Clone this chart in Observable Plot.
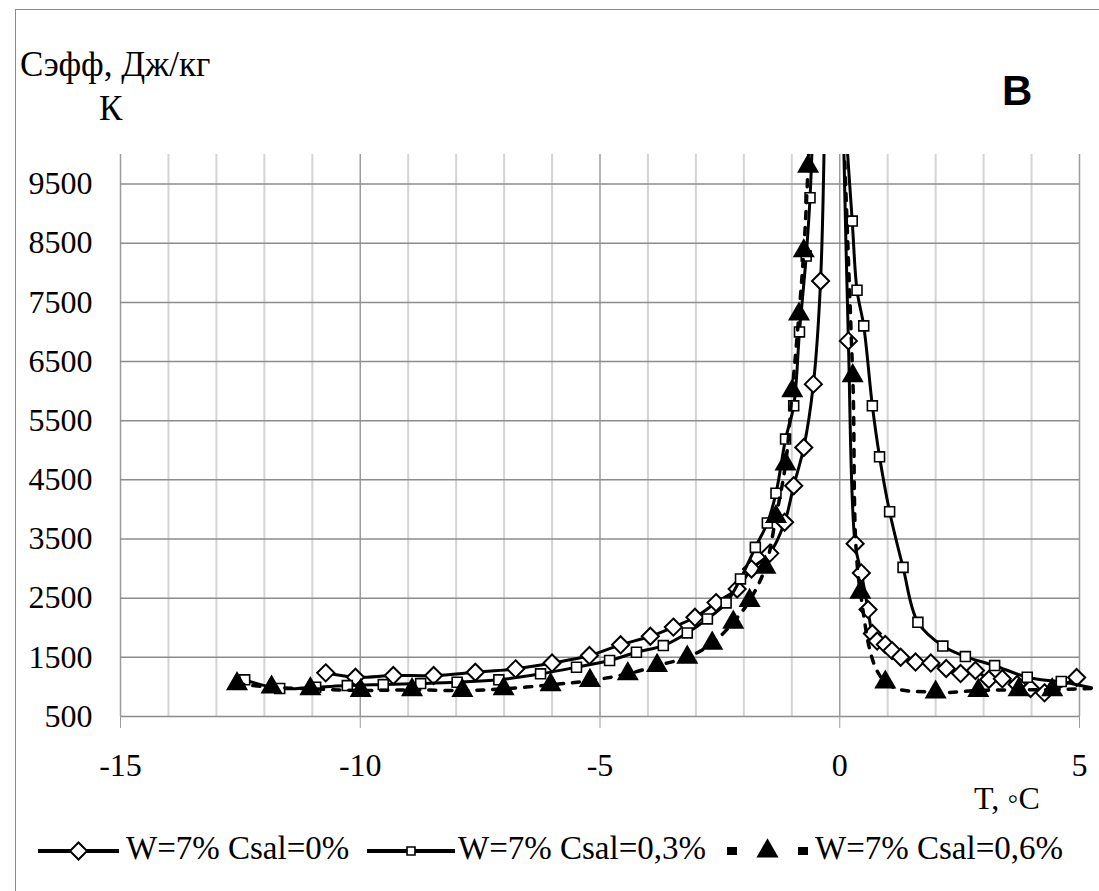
<!DOCTYPE html>
<html>
<head>
<meta charset="utf-8">
<script src="https://cdn.jsdelivr.net/npm/d3@7"></script>
<script src="https://cdn.jsdelivr.net/npm/@observablehq/plot@0.6"></script>
<style>
  body { margin: 0; background: #fff; }
  #fig { position: relative; width: 1099px; height: 891px; overflow: hidden; background: #fff;
         font-family: "Liberation Serif"; color: #000; }
  #frame { position: absolute; left: 15px; top: 9px; right: -4px; bottom: -4px;
           border-left: 1px solid #8c8c8c; border-top: 1px solid #8c8c8c; }
  #chart, #overlay { position: absolute; left: 0; top: 0; }
  .lbl { position: absolute; white-space: nowrap; line-height: 1; font-family: "Liberation Serif"; }
  .lbl.sans { font-family: "Liberation Sans"; font-weight: bold; }
</style>
</head>
<body>
<div id="fig">
  <div id="frame"></div>
  <div id="chart"></div>
</div>
<script>
// Axis ticks
const yTicks = [500, 1500, 2500, 3500, 4500, 5500, 6500, 7500, 8500, 9500];
const xTicks = [-15, -10, -5, 0, 5];

// W=7% Csal=0%  (diamonds)
const s0LeftT  = [-10.72, -10.10, -9.31, -8.47, -7.60, -6.76, -6.00, -5.22, -4.57, -3.95, -3.47, -3.02, -2.58, -2.14, -1.84, -1.46, -1.15, -0.96, -0.75, -0.55, -0.40];
const s0LeftC  = [1238, 1164, 1192, 1192, 1248, 1305, 1403, 1530, 1712, 1856, 2011, 2177, 2425, 2656, 2994, 3258, 3784, 4401, 5047, 6118, 7862];
const s0RightT = [0.18, 0.32, 0.45, 0.59, 0.68, 0.78, 0.95, 1.09, 1.27, 1.58, 1.90, 2.22, 2.52, 2.83, 3.11, 3.39, 3.70, 3.98, 4.27, 4.94];
const s0RightC = [6849, 3421, 2927, 2307, 1902, 1775, 1716, 1614, 1501, 1420, 1403, 1311, 1226, 1277, 1125, 1137, 1040, 973, 900, 1159];
const s0PeakT  = [-0.30, 0.06];      // off-scale values next to the phase-change peak
const s0PeakC  = [11500, 11000];

// W=7% Csal=0,3%  (squares)
const s1LeftT  = [-12.41, -11.68, -10.93, -10.27, -9.52, -8.74, -7.98, -7.11, -6.24, -5.49, -4.80, -4.24, -3.68, -3.18, -2.76, -2.37, -2.07, -1.76, -1.51, -1.33, -1.13, -0.96, -0.84, -0.70, -0.62];
const s1LeftC  = [1120, 973, 995, 1023, 1040, 1057, 1079, 1120, 1221, 1333, 1446, 1586, 1699, 1913, 2150, 2420, 2825, 3359, 3771, 4274, 5189, 5752, 7001, 8284, 9269];
const s1RightT = [0.26, 0.36, 0.50, 0.68, 0.83, 1.04, 1.32, 1.63, 2.15, 2.62, 3.23, 3.91, 4.62];
const s1RightC = [8875, 7705, 7103, 5752, 4890, 3962, 3021, 2092, 1690, 1513, 1361, 1164, 1091];
const s1PeakT  = [-0.52, 0.08];
const s1PeakC  = [11500, 11000];
const s1TailT  = [5.25];
const s1TailC  = [985];

// W=7% Csal=0,6%  (triangles)
const s2LeftT  = [-12.57, -11.85, -11.04, -9.99, -8.92, -7.87, -7.01, -6.03, -5.21, -4.42, -3.81, -3.18, -2.66, -2.22, -1.88, -1.55, -1.33, -1.13, -0.99, -0.85, -0.75, -0.66];
const s2LeftC  = [1052, 995, 968, 939, 951, 939, 968, 1035, 1108, 1221, 1361, 1501, 1738, 2092, 2459, 3021, 3877, 4767, 6005, 7300, 8369, 9800];
const s2RightT = [0.27, 0.43, 0.95, 2.00, 2.89, 3.73, 4.43];
const s2RightC = [6258, 2599, 1079, 910, 939, 951, 951];
const s2PeakT  = [-0.58, 0.03];
const s2PeakC  = [11500, 11500];
const s2TailT  = [5.25];
const s2TailC  = [975];

const seriesNames = ["W=7% Csal=0%", "W=7% Csal=0,3%", "W=7% Csal=0,6%"];

const rows = (ts, cs, branch) => ts.map((t, i) => ({T: t, C: cs[i], branch}));

function build(leftT, leftC, rightT, rightC, peakT, peakC, tailT = [], tailC = []) {
  const left = rows(leftT, leftC, "L");
  const right = rows(rightT, rightC, "R");
  const line = [...left, {T: peakT[0], C: peakC[0], branch: "L"},
                {T: peakT[1], C: peakC[1], branch: "R"}, ...right];
  const tail = tailT.length ? [right[right.length - 1], ...rows(tailT, tailC, "R")] : [];
  return {points: [...left, ...right], line, tail};
}

const s0 = build(s0LeftT, s0LeftC, s0RightT, s0RightC, s0PeakT, s0PeakC);
const s1 = build(s1LeftT, s1LeftC, s1RightT, s1RightC, s1PeakT, s1PeakC, s1TailT, s1TailC);
const s2 = build(s2LeftT, s2LeftC, s2RightT, s2RightC, s2PeakT, s2PeakC, s2TailT, s2TailC);

// marker styles (shared by the chart and the legend)
const diamondR = 7.7, squareR = 5.6, triangleR = 8.2;
const dash = "7,9";
const FONT = "Liberation Serif";

const xMinor = d3.range(-14, 5).filter(v => v % 5 !== 0);
const yGrid = yTicks.slice(1);

const chart = Plot.plot({
  width: 1099,
  height: 891,
  marginLeft: 120,
  marginRight: 20,
  marginTop: 154,
  marginBottom: 175,
  x: {domain: [-15, 5]},
  y: {domain: [500, 10000]},
  style: {fontFamily: FONT, fontSize: "32px", color: "#000", background: "transparent"},
  marks: [
    Plot.gridX(xMinor, {stroke: "#d4d4d4", strokeOpacity: 1, strokeWidth: 2}),
    Plot.gridX(xTicks, {stroke: "#9c9c9c", strokeOpacity: 1, strokeWidth: 1.5}),
    Plot.gridY(yGrid, {stroke: "#8c8c8c", strokeOpacity: 1, strokeWidth: 1.5}),
    Plot.ruleY([500], {stroke: "#8c8c8c", strokeWidth: 1.5}),
    Plot.axisY(yTicks, {tickSize: 0, tickPadding: 28, fontSize: 32, fontFamily: FONT, label: null, tickFormat: d => String(d)}),
    Plot.axisX(xTicks, {tickSize: 12, tickPadding: 25, stroke: "#9c9c9c", fontSize: 32, fontFamily: FONT, label: null, tickFormat: d => String(d)}),

    // Csal = 0%
    Plot.line(s0.line, {x: "T", y: "C", z: "branch", curve: "catmull-rom", stroke: "#000", strokeWidth: 3, clip: true}),
    Plot.dot(s0.points, {x: "T", y: "C", symbol: "diamond2", r: diamondR, fill: "#fff", stroke: "#000", strokeWidth: 2}),

    // Csal = 0,3%
    Plot.line(s1.line, {x: "T", y: "C", z: "branch", curve: "catmull-rom", stroke: "#000", strokeWidth: 3, clip: true}),
    Plot.line(s1.tail, {x: "T", y: "C", stroke: "#000", strokeWidth: 3}),
    Plot.dot(s1.points, {x: "T", y: "C", symbol: "square", r: squareR, fill: "#fff", stroke: "#000", strokeWidth: 1.6}),

    // Csal = 0,6%
    Plot.line(s2.line, {x: "T", y: "C", z: "branch", curve: "catmull-rom", stroke: "#000", strokeWidth: 3.5, strokeDasharray: dash, clip: true}),
    Plot.line(s2.tail, {x: "T", y: "C", stroke: "#000", strokeWidth: 3.5, strokeDasharray: dash}),
    Plot.dot(s2.points, {x: "T", y: "C", symbol: "triangle", r: triangleR, fill: "#000", stroke: "none"})
  ]
});
document.getElementById("chart").appendChild(chart);

// Legend symbols
const fig = d3.select("#fig");
const ov = fig.append("svg").attr("id", "overlay").attr("width", 1099).attr("height", 891);

const legendY = 851;
const sym = (type, r) => d3.symbol(type, r * r * Math.PI)();
const items = [
  {x0: 38, x1: 119, tx: 126},
  {x0: 367, x1: 455, tx: 458},
  {x0: 727, x1: 808, tx: 815}
];
items.forEach((it, i) => {
  const g = ov.append("g");
  const cx = (it.x0 + it.x1) / 2;
  if (i < 2) {
    g.append("line").attr("x1", it.x0).attr("x2", it.x1).attr("y1", legendY).attr("y2", legendY)
      .attr("stroke", "#000").attr("stroke-width", 4);
  } else {
    [it.x0, it.x1 - 10].forEach(x => g.append("rect").attr("x", x).attr("y", legendY - 4)
      .attr("width", 10).attr("height", 8).attr("fill", "#000"));
  }
  const p = g.append("path").attr("transform", `translate(${cx},${legendY})`);
  if (i === 0) p.attr("d", sym(d3.symbolDiamond2, diamondR)).attr("fill", "#fff").attr("stroke", "#000").attr("stroke-width", 2);
  if (i === 1) p.attr("d", sym(d3.symbolSquare, squareR * 0.8)).attr("fill", "#fff").attr("stroke", "#000").attr("stroke-width", 1.6);
  if (i === 2) p.attr("d", sym(d3.symbolTriangle, triangleR)).attr("fill", "#000");
});

// Titles, axis name and legend labels as page text; (x, baseline) in px
function label(x, baseline, size, txt, cls = "") {
  fig.append("div").attr("class", "lbl " + cls)
    .style("left", x + "px")
    .style("top", (baseline - 0.95 * size) + "px")
    .style("font-size", size + "px")
    .text(txt);
}
label(20, 80, 35, "Сэфф, Дж/кг");
label(99, 124, 35, "К");
label(974, 812, 32, "T, ◦C");
label(1002, 110, 42, "В", "sans");
items.forEach((it, i) => label(it.tx, legendY + 12, 33, seriesNames[i]));
</script>
</body>
</html>
